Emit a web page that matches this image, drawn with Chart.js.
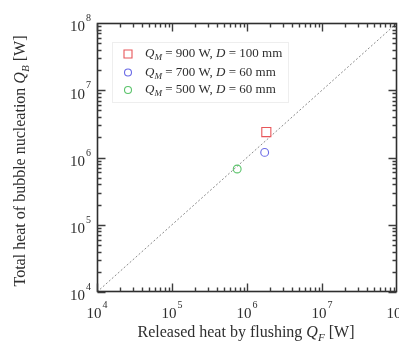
<!DOCTYPE html>
<html>
<head>
<meta charset="utf-8">
<script src="https://cdn.jsdelivr.net/npm/chart.js@4.4.0/dist/chart.umd.min.js"></script>
<style>
  html, body { margin: 0; padding: 0; background: #fff; overflow: hidden; }
  #wrap { width: 399px; height: 354px; position: relative; }
</style>
</head>
<body>
<div id="wrap"><canvas id="chart"></canvas></div>
<script>
// data
const powerInput = [900, 700, 500];          // Q_M [W]
const tubeDiameter = [100, 60, 60];          // D [mm]
const flushHeat = [1.81e6, 1.72e6, 7.4e5];   // Q_F [W]
const nucleationHeat = [2.39e6, 1.19e6, 6.75e5]; // Q_B [W]
const markerColors = ['#e8565a', '#6a6ae6', '#5cc46c'];
const markerStyles = ['rect', 'circle', 'circle'];
const decades = [4, 5, 6, 7, 8];

const SERIF = '"Liberation Serif", "Times New Roman", serif';
const INK = '#2e2e2e';

function font(size, italic) {
  return (italic ? 'italic ' : '') + size + 'px ' + SERIF;
}

// draws text made of parts {t, i (italic), sub}
function drawRich(ctx, parts, x, y, size, align) {
  let total = 0;
  const widths = parts.map(p => {
    ctx.font = font(p.sub ? size * 0.7 : size, p.i);
    const w = ctx.measureText(p.t).width;
    total += w;
    return w;
  });
  let cx = align === 'center' ? x - total / 2 : x;
  parts.forEach((p, k) => {
    ctx.font = font(p.sub ? size * 0.7 : size, p.i);
    ctx.fillText(p.t, cx, p.sub ? y + size * 0.3 : y);
    cx += widths[k];
  });
}

function legendParts(k) {
  return [
    { t: 'Q', i: 1 }, { t: 'M', i: 1, sub: 1 },
    { t: ' = ' + powerInput[k] + ' W, ' },
    { t: 'D', i: 1 },
    { t: ' = ' + tubeDiameter[k] + ' mm' }
  ];
}

const datasets = powerInput.map((q, k) => ({
  label: 'Q_M = ' + q + ' W, D = ' + tubeDiameter[k] + ' mm',
  data: [{ x: flushHeat[k], y: nucleationHeat[k] }],
  pointStyle: markerStyles[k],
  pointRadius: markerStyles[k] === 'rect' ? 6.4 : 3.9,
  pointBorderWidth: 1.1,
  borderColor: markerColors[k],
  backgroundColor: 'rgba(0,0,0,0)',
  showLine: false
}));

// y = x reference line
const lo = Math.pow(10, decades[0]);
const hi = Math.pow(10, decades[decades.length - 1]);
datasets.push({
  label: 'parity',
  data: [{ x: lo, y: lo }, { x: hi, y: hi }],
  showLine: true,
  pointRadius: 0,
  borderColor: '#8a8a8a',
  borderWidth: 1,
  borderDash: [2, 2]
});

const framePlugin = {
  id: 'frame',
  afterDatasetsDraw(chart) {
    const { ctx, chartArea: a, scales } = chart;
    const xs = scales.x, ys = scales.y;
    const L = Math.round(a.left) + 0.5, R = Math.round(a.right) - 0.5;
    const T = Math.round(a.top) + 0.5, B = Math.round(a.bottom) - 0.5;
    ctx.save();
    ctx.strokeStyle = INK;
    ctx.lineWidth = 1.6;
    ctx.strokeRect(L, T, R - L, B - T);

    // inward ticks on all four sides
    const tickVals = [];
    for (let d = 0; d < decades.length - 1; d++) {
      for (let m = 1; m <= 9; m++) tickVals.push({ v: m * Math.pow(10, decades[d]), major: m === 1 });
    }
    ctx.lineWidth = 1.4;
    ctx.strokeStyle = '#3c3c3c';
    ctx.beginPath();
    tickVals.forEach(t => {
      const len = t.major ? 8 : 4;
      const px = Math.round(xs.getPixelForValue(t.v)) + 0.5;
      ctx.moveTo(px, B); ctx.lineTo(px, B - len);
      ctx.moveTo(px, T); ctx.lineTo(px, T + len);
      const py = Math.round(ys.getPixelForValue(t.v)) + 0.5;
      ctx.moveTo(L, py); ctx.lineTo(L + len, py);
      ctx.moveTo(R, py); ctx.lineTo(R - len, py);
    });
    ctx.stroke();

    // tick labels 10^n
    ctx.fillStyle = INK;
    ctx.textBaseline = 'middle';
    ctx.textAlign = 'left';
    decades.forEach(e => {
      ctx.font = font(15);
      const wb = ctx.measureText('10').width;
      ctx.font = font(10);
      const we = ctx.measureText(String(e)).width;
      const v = Math.pow(10, e);
      // x axis
      const px = xs.getPixelForValue(v);
      const sx = px - (wb + we + 1) / 2;
      ctx.font = font(15);
      ctx.fillText('10', sx, 314);
      ctx.font = font(10);
      ctx.fillText(String(e), sx + wb + 1, 305);
      // y axis
      const py = ys.getPixelForValue(v);
      const rx = 91;
      ctx.font = font(10);
      ctx.fillText(String(e), rx - we, py - 4.5);
      ctx.font = font(15);
      ctx.fillText('10', rx - we - 1 - wb, py + 4.5);
    });

    // axis titles
    drawRich(ctx, [
      { t: 'Released heat by flushing ' },
      { t: 'Q', i: 1 }, { t: 'F', i: 1, sub: 1 },
      { t: ' [W]' }
    ], (a.left + a.right) / 2 - 1, 333, 16, 'center');

    ctx.save();
    ctx.translate(21, 161);
    ctx.rotate(-Math.PI / 2);
    drawRich(ctx, [
      { t: 'Total heat of bubble nucleation ' },
      { t: 'Q', i: 1 }, { t: 'B', i: 1, sub: 1 },
      { t: ' [W]' }
    ], 0, 0, 16, 'center');
    ctx.restore();

    // legend
    ctx.strokeStyle = '#eeeeee';
    ctx.lineWidth = 1;
    ctx.strokeRect(112.5, 42.5, 176, 60);
    const rows = [54, 72.5, 90];
    rows.forEach((ry, k) => {
      ctx.strokeStyle = markerColors[k];
      ctx.lineWidth = 1.1;
      ctx.beginPath();
      if (markerStyles[k] === 'rect') {
        ctx.rect(124, ry - 4, 8, 8);
      } else {
        ctx.arc(128, ry, 3.5, 0, Math.PI * 2);
      }
      ctx.stroke();
      ctx.fillStyle = INK;
      drawRich(ctx, legendParts(k), 145, ry, 13, 'left');
    });
    ctx.restore();
  }
};

new Chart(document.getElementById('chart'), {
  type: 'scatter',
  data: { datasets: datasets },
  options: {
    responsive: true,
    maintainAspectRatio: false,
    animation: false,
    layout: { autoPadding: false, padding: { left: 97, right: 2, top: 23, bottom: 62 } },
    plugins: { legend: { display: false }, tooltip: { enabled: false } },
    scales: {
      x: { type: 'logarithmic', min: lo, max: hi, display: false },
      y: { type: 'logarithmic', min: lo, max: hi, display: false }
    }
  },
  plugins: [framePlugin]
});
</script>
</body>
</html>
